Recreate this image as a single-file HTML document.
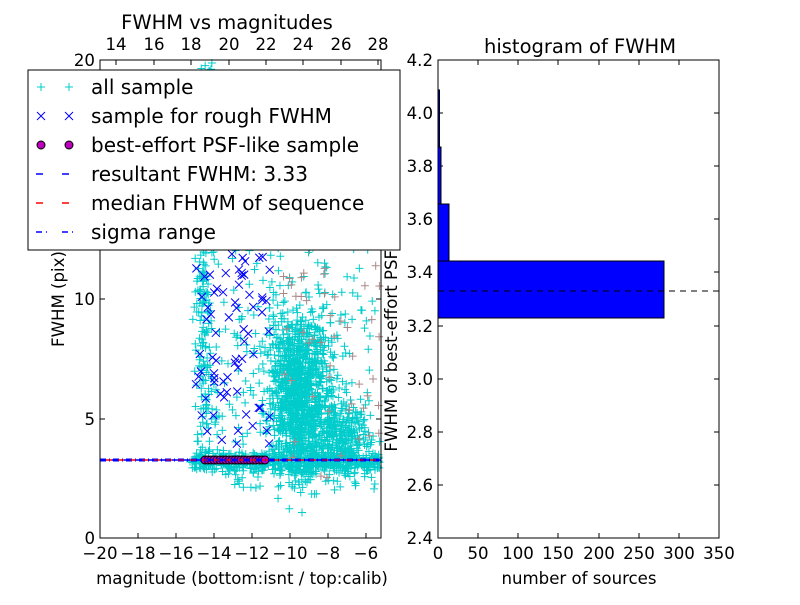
<!DOCTYPE html><html><head><style>body{margin:0;background:#fff}svg text{font-family:"DejaVu Sans",sans-serif}</style></head><body>
<svg id="s" width="800" height="600" xmlns="http://www.w3.org/2000/svg">
<g id="pts"></g>
<line x1="100" y1="460" x2="381" y2="460" stroke="#f00" stroke-width="1.5" stroke-dasharray="6,6" stroke-dashoffset="6"/>
<line x1="100" y1="460" x2="381" y2="460" stroke="#00f" stroke-width="1.5" stroke-dasharray="6,6"/>
<line x1="100" y1="459" x2="381" y2="459" stroke="#00f" stroke-dasharray="6,3,1,3"/>
<line x1="100" y1="461" x2="381" y2="461" stroke="#00f" stroke-dasharray="6,3,1,3"/>
<rect x="100" y="60" width="281" height="478" fill="none" stroke="#000"/>
<g font-size="16.6" fill="#000">
<text x="100" y="559" text-anchor="middle">−20</text><text x="138" y="559" text-anchor="middle">−18</text><text x="176" y="559" text-anchor="middle">−16</text><text x="214" y="559" text-anchor="middle">−14</text><text x="252" y="559" text-anchor="middle">−12</text><text x="290" y="559" text-anchor="middle">−10</text><text x="328" y="559" text-anchor="middle">−8</text><text x="366" y="559" text-anchor="middle">−6</text>
<text x="116" y="50" text-anchor="middle">14</text><text x="154" y="50" text-anchor="middle">16</text><text x="191" y="50" text-anchor="middle">18</text><text x="229" y="50" text-anchor="middle">20</text><text x="266" y="50" text-anchor="middle">22</text><text x="303" y="50" text-anchor="middle">24</text><text x="341" y="50" text-anchor="middle">26</text><text x="378" y="50" text-anchor="middle">28</text>
<text x="95" y="544" text-anchor="end">0</text><text x="95" y="425" text-anchor="end">5</text><text x="95" y="305" text-anchor="end">10</text><text x="95" y="66" text-anchor="end">20</text>
<text x="242" y="584" text-anchor="middle">magnitude (bottom:isnt / top:calib)</text>
<text x="64" y="299" text-anchor="middle" transform="rotate(-90 64 299)">FWHM (pix)</text>
<text x="579" y="584" text-anchor="middle">number of sources</text>
<text x="397" y="299" text-anchor="middle" transform="rotate(-90 397 299)">FWHM of best-effort PSF-like sources</text>
</g>
<text x="227" y="29" font-size="19.5" text-anchor="middle">FWHM vs magnitudes</text>
<text x="580" y="53" font-size="19.5" text-anchor="middle">histogram of FWHM</text>
<g id="tk" stroke="#000"></g>
<rect x="438" y="90" width="1.5" height="58" fill="#00f" stroke="#000"/>
<rect x="438" y="147" width="3" height="57" fill="#00f" stroke="#000"/>
<rect x="438" y="204" width="11" height="57" fill="#00f" stroke="#000"/>
<rect x="438" y="261" width="226" height="57" fill="#00f" stroke="#000"/>
<line x1="438" y1="291" x2="719" y2="291" stroke="#000" stroke-dasharray="6,5"/>
<rect x="438" y="60" width="281" height="478" fill="none" stroke="#000"/>
<g font-size="16.6">
<text x="438" y="559" text-anchor="middle">0</text><text x="478" y="559" text-anchor="middle">50</text><text x="518" y="559" text-anchor="middle">100</text><text x="558" y="559" text-anchor="middle">150</text><text x="599" y="559" text-anchor="middle">200</text><text x="639" y="559" text-anchor="middle">250</text><text x="679" y="559" text-anchor="middle">300</text><text x="719" y="559" text-anchor="middle">350</text>
<text x="433" y="544" text-anchor="end">2.4</text><text x="433" y="491" text-anchor="end">2.6</text><text x="433" y="438" text-anchor="end">2.8</text><text x="433" y="385" text-anchor="end">3.0</text><text x="433" y="332" text-anchor="end">3.2</text><text x="433" y="278" text-anchor="end">3.4</text><text x="433" y="225" text-anchor="end">3.6</text><text x="433" y="172" text-anchor="end">3.8</text><text x="433" y="119" text-anchor="end">4.0</text><text x="433" y="66" text-anchor="end">4.2</text>
</g>
<rect x="28" y="70" width="372" height="180" fill="#fff" stroke="#000"/>
<g font-size="20">
<text x="91" y="94">all sample</text><text x="91" y="123">sample for rough FWHM</text><text x="91" y="152">best-effort PSF-like sample</text><text x="91" y="181">resultant FWHM: 3.33</text><text x="91" y="210">median FHWM of sequence</text><text x="91" y="239">sigma range</text>
</g>
<g stroke-width="1">
<path d="M37 87h8M41 83v8M65 87h8M69 83v8" stroke="#0cc"/>
<path d="M37 112l8 8M45 112l-8 8M65 112l8 8M73 112l-8 8" stroke="#00f"/>
<circle cx="41" cy="145" r="4" fill="#b0b" stroke="#000"/><circle cx="69" cy="145" r="4" fill="#b0b" stroke="#000"/>
<path d="M36 174h7M62 174h7" stroke="#00f" stroke-width="1.5"/>
<path d="M36 203h7M62 203h7" stroke="#f00" stroke-width="1.5"/>
<path d="M36 232h6M46 232h1M62 232h6M72 232h1" stroke="#00f" stroke-width="1.5"/>
</g>
</svg>
<script>
var s=12345;function r(){s=(s*1103515245+12345)%2147483648;return s/2147483648}
function g(){return (r()+r()+r()+r()-2)/0.577}
var o='';function P(x,y,c){if(x<101||x>380||y<61||y>537)return;o+='<path d="M'+(x-4)+' '+y+'h8M'+x+' '+(y-4)+'v8" stroke="'+c+'"/>'}
for(var i=0;i<1100;i++){P(300+g()*15,395+g()*40,'#0cc')}
for(var i=0;i<300;i++){P(340+g()*15,440+g()*20,'#0cc')}
for(var i=0;i<250;i++){P(205+g()*5,60+r()*400,'#0cc')}
for(var i=0;i<500;i++){P(190+r()*190,462+g()*5,'#0cc')}
for(var i=0;i<350;i++){P(215+r()*160,60+Math.pow(r(),0.5)*430,'#0cc')}
for(var i=0;i<50;i++){P(280+r()*100,250+r()*230,'#a88')}
for(var i=0;i<70;i++){var x=195+r()*75,y=250+r()*200;o+='<path d="M'+(x-4)+' '+(y-4)+'l8 8M'+(x+4)+' '+(y-4)+'l-8 8" stroke="#00f"/>'}
for(var x=205;x<266;x+=3)o+='<circle cx="'+x+'" cy="460" r="4" fill="#b0b" stroke="#000"/>';
document.getElementById('pts').innerHTML=o;
var t='';
[138,176,214,252,290,328,366].forEach(function(x){t+='<path d="M'+x+' 538v-5"/>'});
[116,154,191,229,266,303,341,378].forEach(function(x){t+='<path d="M'+x+' 60v5"/>'});
[419,299,180].forEach(function(y){t+='<path d="M100 '+y+'h5M381 '+y+'h-5"/>'});
[478,518,558,599,639,679].forEach(function(x){t+='<path d="M'+x+' 538v-5M'+x+' 60v5"/>'});
[485,432,379,326,272,219,166,113].forEach(function(y){t+='<path d="M438 '+y+'h5M719 '+y+'h-5"/>'});
document.getElementById('tk').innerHTML=t;
</script>
</body></html>
